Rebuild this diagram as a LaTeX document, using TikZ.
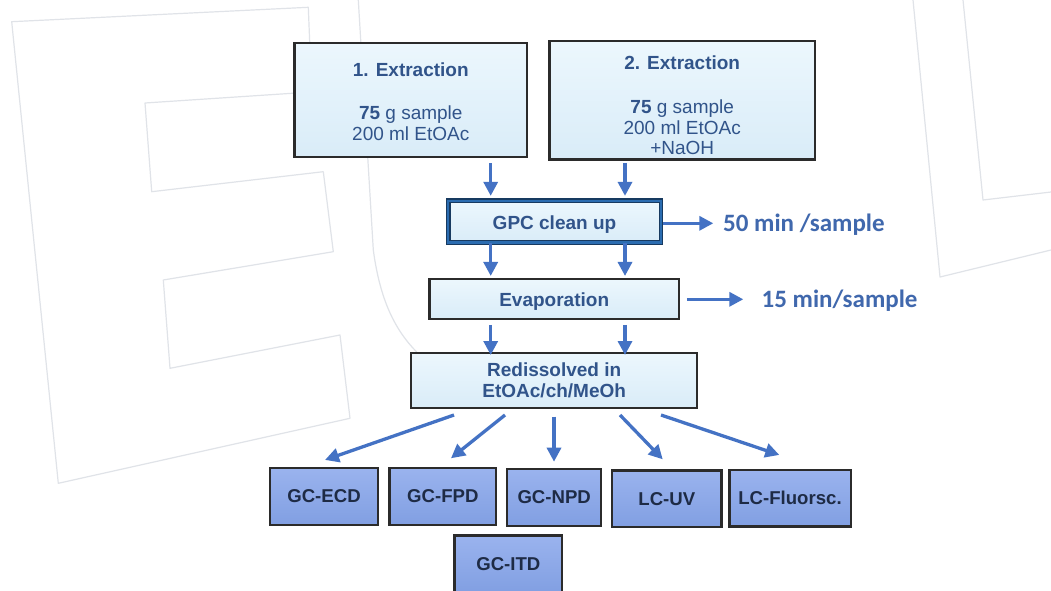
\documentclass[tikz,border=0pt]{standalone}
\usepackage{fontspec}
\setmainfont{Liberation Sans}
\newfontfamily\carl{Carlito}
\usetikzlibrary{arrows.meta}
\definecolor{boxline}{HTML}{2B2B2B}
\definecolor{ltA}{HTML}{ECF7FD}
\definecolor{ltB}{HTML}{D9ECF8}
\definecolor{btA}{HTML}{9AB3EE}
\definecolor{btB}{HTML}{819FE2}
\definecolor{boxtxt}{HTML}{31548A}
\definecolor{btxt}{HTML}{1E2B45}
\definecolor{sidetxt}{HTML}{4068AD}
\definecolor{arrc}{HTML}{4472C4}
\definecolor{gpcA}{HTML}{173A60}
\definecolor{gpcB}{HTML}{2B6CB0}
\definecolor{wm}{HTML}{E0E3E8}
\begin{document}
\begin{tikzpicture}[x=1pt,y=-1pt,
  lbox/.style={draw=boxline, line width=2.2pt, top color=ltA, bottom color=ltB, inner sep=0pt},
  bbox/.style={draw=boxline, line width=2.2pt, top color=btA, bottom color=btB, inner sep=0pt,
    text=btxt, font=\bfseries\fontsize{18.6}{20}\selectfont},
  txt/.style={text=boxtxt, align=center, inner sep=0pt, font=\fontsize{19}{21}\selectfont},
  side/.style={text=sidetxt, inner sep=0pt, anchor=base west, font=\carl\bfseries\fontsize{25}{27}\selectfont},
  arr/.style={draw=arrc, line width=3.3pt, -{Triangle[length=14pt,width=14pt]}},
  wmline/.style={draw=wm, line width=1.2pt, line join=round}]
\useasboundingbox (0,0) rectangle (1051,591);
\fill[white] (0,0) rectangle (1051,591);
% faint watermark
\draw[wmline] (11.7,21.7) -- (308.3,7.3) -- (311.7,92) -- (145,103) -- (151.7,191.7)
  -- (323.3,171.7) -- (333.3,251.7) -- (163.3,280) -- (170,368.3) -- (340,335)
  -- (350,418.3) -- (58.3,483.3) -- cycle;
\draw[wmline] (358.3,0) -- (373.3,250) .. controls (380,300) and (395,330) .. (416.7,352);
\draw[wmline] (913,0) -- (940,277) -- (1051,250);
\draw[wmline] (963,0) -- (983,200) -- (1051,192);
% positions of the vertical arrows
\coordinate (xL) at (490.7,0);
\coordinate (xR) at (625,0);
% boxes
\node[lbox, minimum width=232.8, minimum height=114.4] (ext1) at (410.8,100) {};
\node[txt] (ext1t) at (410.8,101.9) {\textbf{1. Extraction}\\[21.6pt]\textbf{75} g sample\\200 ml EtOAc};
\node[lbox, minimum width=265.5, minimum height=118.5] (ext2) at (682.2,100.3) {};
\node[txt, font=\fontsize{19}{20.5}\selectfont] (ext2t) at (682.2,105.6) {\textbf{2. Extraction}\\[23.5pt]\textbf{75} g sample\\200 ml EtOAc\\+NaOH};
\node[draw=gpcA, line width=1.2pt, double=gpcB, double distance=2.4pt, top color=ltA, bottom color=ltB,
  minimum width=212.8, minimum height=41.9, inner sep=0pt] (gpc) at (554.5,221.7) {};
\node[txt, anchor=base, font=\bfseries\fontsize{19}{21}\selectfont] (gpct) at (554.5,229.5) {GPC clean up};
\node[lbox, minimum width=249.5, minimum height=40.1] (evap) at (554.2,298.8) {};
\node[txt, anchor=base, font=\bfseries\fontsize{19}{21}\selectfont] (evapt) at (554.2,306.6) {Evaporation};
\node[lbox, minimum width=286.1, minimum height=55.4] (redis) at (554.2,380.5) {};
\node[txt, font=\bfseries\fontsize{19}{21.6}\selectfont] (redist) at (554.2,380.5) {Redissolved in\\EtOAc/ch/MeOh};
% side notes
\node[side] (t50) at (723,231) {50 min /sample};
\node[side] (t15) at (761.5,307.3) {15 min/sample};
% detector boxes
\node[bbox, minimum width=107.8, minimum height=57.1] (ecd) at (324,496.3) {GC-ECD};
\node[bbox, minimum width=106.8, minimum height=57.1] (fpd) at (442.8,496.3) {GC-FPD};
\node[bbox, minimum width=94.1, minimum height=56.8] (npd) at (554.2,497.2) {GC-NPD};
\node[bbox, minimum width=109.5, minimum height=56.8] (lcuv) at (666.8,498.8) {LC-UV};
\node[bbox, minimum width=121.2, minimum height=56.5] (lcfl) at (790,498.3) {LC-Fluorsc.};
\node[bbox, minimum width=107.8, minimum height=57.8] (itd) at (508.3,564.3) {GC-ITD};
% vertical arrows
\draw[arr, shorten <=4.7pt, shorten >=4.3pt] (ext1.south -| xL) -- (gpc.north -| xL);
\draw[arr, shorten <=2.3pt, shorten >=4.3pt] (ext2.south -| xR) -- (gpc.north -| xR);
\draw[arr, shorten >=1.7pt] (gpc.south -| xL) -- (evap.north -| xL);
\draw[arr, shorten >=1.7pt] (gpc.south -| xR) -- (evap.north -| xR);
\draw[arr, shorten <=5pt, shorten >=-3.3pt] (evap.south -| xL) -- (redis.north -| xL);
\draw[arr, shorten <=5pt, shorten >=-3.3pt] (evap.south -| xR) -- (redis.north -| xR);
% side arrows
\draw[arr, shorten >=9.7pt] ([shift={(1.7,1.6)}]gpc.east) -- (t50.west |- 0,223.3);
\draw[arr, shorten >=18.2pt] ([shift={(6.7,0.5)}]evap.east) -- (t15.west |- 0,299.3);
% fan arrows
\draw[arr] ([shift={(-100.2,5.7)}]redis.south) -- ([shift={(1,-6.7)}]ecd.north);
\draw[arr] ([shift={(-49.2,5.7)}]redis.south) -- ([shift={(8.2,-8.4)}]fpd.north);
\draw[arr] ([shift={(-0.2,7.4)}]redis.south) -- ([shift={(-0.2,-6)}]npd.north);
\draw[arr] ([shift={(65.8,5.7)}]redis.south) -- ([shift={(-4.1,-10)}]lcuv.north);
\draw[arr] ([shift={(106.8,5.7)}]redis.south) -- ([shift={(-10.7,-14)}]lcfl.north);
\end{tikzpicture}
\end{document}
